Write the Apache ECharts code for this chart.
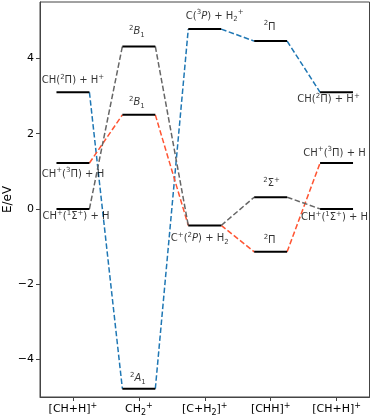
<!DOCTYPE html>
<html>
<head>
<meta charset="utf-8">
<title>CH2+ correlation diagram</title>
<script src="https://cdn.jsdelivr.net/npm/echarts@6/dist/echarts.min.js"></script>
<style>
  html, body { margin: 0; padding: 0; background: #fff; }
  #chart { width: 372px; height: 418px; }
</style>
</head>
<body>
<div id="chart"></div>
<script>
// x categories (one column per configuration)
const columns = [
  '[CH+H]{sup|+}', 'CH{sub|2}{sup|+}', '[C+H{sub|2}]{sup|+}', '[CHH]{sup|+}', '[CH+H]{sup|+}'
];
const yTicks = [-4, -2, 0, 2, 4];

// energy levels: column index, energy in eV, text
const levelColumn = [0, 0, 0, 1, 1, 1, 2, 2, 3, 3, 3, 4, 4, 4];
const levelEnergy = [3.10, 1.22, 0.00, 4.32, 2.50, -4.78, 4.78, -0.44, 4.46, 0.31, -1.14, 3.10, 1.22, 0.00];
const levelLabel = [
  'CH({sup|2}Π) + H{sup|+}', 'CH{sup|+}({sup|3}Π) + H', 'CH{sup|+}({sup|1}Σ{sup|+}) + H',
  '{sup|2}{i|B}{sub|1}', '{sup|2}{i|B}{sub|1}', '{sup|2}{i|A}{sub|1}',
  'C({sup|3}{i|P}) + H{sub|2}{sup|+}', 'C{sup|+}({sup|2}{i|P}) + H{sub|2}',
  '{sup|2}Π', '{sup|2}Σ{sup|+}', '{sup|2}Π',
  'CH({sup|2}Π) + H{sup|+}', 'CH{sup|+}({sup|3}Π) + H', 'CH{sup|+}({sup|1}Σ{sup|+}) + H'
];

// correlation paths, as indices into the level arrays
const bluePath = [0, 5, 6, 8, 11];
const redPath = [1, 4, 7, 10, 12];
const grayPath = [2, 3, 7, 9, 13];

// layout only: label offsets in px from the level centre
const labelOffset = [
  [0, -12], [0, 11], [3, 8],
  [-2, -15], [-2, -12], [-1, -10],
  [10, -13], [-5, 13],
  [-1, -14], [1, -14], [-1, -11],
  [-8, 7], [-2, -10], [-2, 9]
];
const halfWidth = 0.25;
const font = 'DejaVu Sans';

function richStyles(size) {
  let small = Math.round(size * 0.7);
  return {
    sup: { fontSize: small, lineHeight: small, verticalAlign: 'top', fontFamily: font, color: '#000' },
    sub: { fontSize: small, lineHeight: small, verticalAlign: 'bottom', fontFamily: font, color: '#000' },
    i: { fontSize: size, fontStyle: 'italic', fontFamily: font, color: '#000' }
  };
}

let myChart = echarts.init(document.getElementById('chart'));

function pathSeries(path, color) {
  let out = [];
  for (let i = 0; i < path.length - 1; i++) {
    let a = path[i], b = path[i + 1];
    out.push({
      type: 'line',
      symbol: 'none',
      silent: true,
      z: 2,
      lineStyle: { color: color, width: 1.5, type: [5.5, 2.5] },
      data: [
        [levelColumn[a] + halfWidth, levelEnergy[a]],
        [levelColumn[b] - halfWidth, levelEnergy[b]]
      ]
    });
  }
  return out;
}

let series = [].concat(
  pathSeries(bluePath, '#1f77b4'),
  pathSeries(redPath, '#ff5533'),
  pathSeries(grayPath, '#666666')
);

// horizontal level bars
series.push({
  type: 'custom',
  z: 5,
  silent: true,
  data: levelColumn.map((c, i) => [c, levelEnergy[i]]),
  renderItem: function (params, api) {
    let c = api.value(0), e = api.value(1);
    let p1 = api.coord([c - halfWidth, e]);
    let p2 = api.coord([c + halfWidth, e]);
    return {
      type: 'line',
      shape: { x1: p1[0], y1: p1[1], x2: p2[0], y2: p2[1] },
      style: { stroke: '#000', lineWidth: 2 }
    };
  }
});

// level labels
series.push({
  type: 'scatter',
  symbolSize: 0,
  z: 6,
  silent: true,
  data: levelColumn.map((c, i) => ({
    value: [c, levelEnergy[i]],
    label: { offset: labelOffset[i] }
  })),
  label: {
    show: true,
    position: 'inside',
    color: '#000',
    fontFamily: font,
    fontSize: 10,
    lineHeight: 14,
    formatter: p => levelLabel[p.dataIndex],
    rich: richStyles(10)
  }
});

myChart.setOption({
  animation: false,
  grid: {
    left: 40, top: 2, right: 2.5, bottom: 21,
    outerBoundsMode: 'none',
    containLabel: false,
    show: true, borderColor: '#444', borderWidth: 1
  },
  xAxis: {
    type: 'value',
    min: -0.5,
    max: 4.5,
    splitLine: { show: false },
    axisLine: { show: true, onZero: false, lineStyle: { color: '#444', width: 1 } },
    axisTick: { show: true, customValues: [0, 1, 2, 3, 4], length: 4, lineStyle: { color: '#444' } },
    axisLabel: {
      customValues: [0, 1, 2, 3, 4],
      formatter: v => columns[v],
      color: '#000', fontFamily: font, fontSize: 11, lineHeight: 15, margin: 5,
      rich: richStyles(11)
    }
  },
  yAxis: {
    type: 'value',
    min: -5,
    max: 5.5,
    name: 'E/eV',
    nameLocation: 'middle',
    nameGap: 26,
    nameMoveOverlap: false,
    nameTextStyle: { color: '#000', fontFamily: font, fontSize: 12 },
    splitLine: { show: false },
    axisLine: { show: true, onZero: false, lineStyle: { color: '#444', width: 1 } },
    axisTick: { show: true, customValues: yTicks, length: 4, lineStyle: { color: '#444' } },
    axisLabel: {
      customValues: yTicks,
      formatter: v => String(v).replace('-', '−'),
      color: '#000', fontFamily: font, fontSize: 11, margin: 6
    }
  },
  series: series
});
</script>
</body>
</html>
